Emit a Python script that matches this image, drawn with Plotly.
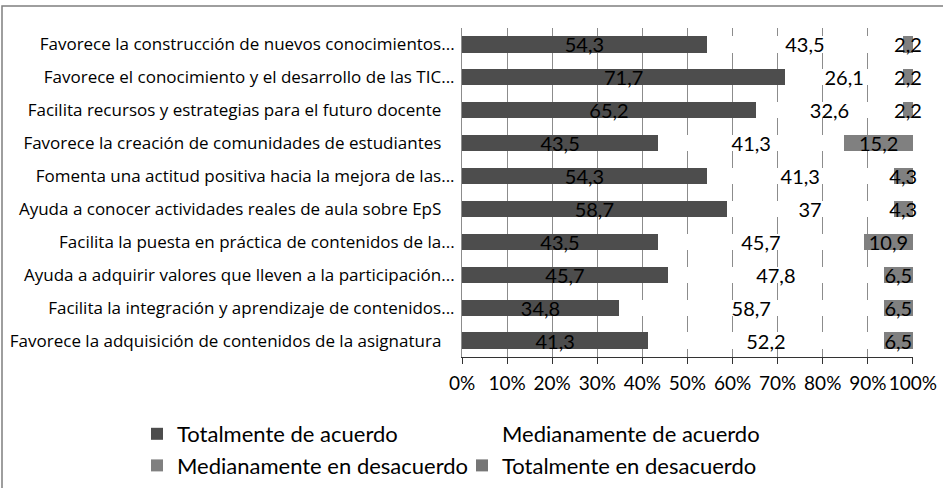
import plotly.graph_objects as go

categories = [
    "Favorece la construcción de nuevos conocimientos...",
    "Favorece el conocimiento y el desarrollo de las TIC...",
    "Facilita recursos y estrategias para el futuro docente",
    "Favorece la creación de comunidades de estudiantes",
    "Fomenta una actitud positiva hacia la mejora de las...",
    "Ayuda a conocer actividades reales de aula sobre EpS",
    "Facilita la puesta en práctica de contenidos de la...",
    "Ayuda a adquirir valores que lleven a la participación...",
    "Facilita la integración y aprendizaje de contenidos...",
    "Favorece la adquisición de contenidos de la asignatura",
]
totalmente_acuerdo = [54.3, 71.7, 65.2, 43.5, 54.3, 58.7, 43.5, 45.7, 34.8, 41.3]
medianamente_acuerdo = [43.5, 26.1, 32.6, 41.3, 41.3, 37, 45.7, 47.8, 58.7, 52.2]
medianamente_desacuerdo = [2.2, 2.2, 2.2, 15.2, 4.3, 4.3, 10.9, 6.5, 6.5, 6.5]
totalmente_desacuerdo = [0, 0, 0, 0, 0, 0, 0, 0, 0, 0]
series_names = ["Totalmente de acuerdo", "Medianamente de acuerdo",
                "Medianamente en desacuerdo", "Totalmente en desacuerdo"]
tick_vals = [0, 10, 20, 30, 40, 50, 60, 70, 80, 90, 100]
tick_text = ["0%", "10%", "20%", "30%", "40%", "50%", "60%", "70%", "80%", "90%", "100%"]

NUMFONT = "Lato"
CATFONT = "Open Sans"


def fmt(v):
    return ("%g" % v).replace(".", ",") if v else ""


# labels without ellipsis carry a trailing gap in the original
labels = [c if c.endswith("...") else c + "\u00a0\u00a0\u00a0" for c in categories]

series = [totalmente_acuerdo, medianamente_acuerdo, medianamente_desacuerdo, totalmente_desacuerdo]
colors = ["#4d4d4d", "#ffffff", "#808080", "#767676"]

fig = go.Figure()
for name, vals, col in zip(series_names, series, colors):
    fig.add_trace(go.Bar(
        y=labels, x=vals, name=name, orientation="h",
        marker=dict(color=col, line=dict(width=0)),
        text=[fmt(v) for v in vals],
        textposition="inside", insidetextanchor="middle", textangle=0,
        constraintext="none", cliponaxis=False,
        textfont=dict(family=NUMFONT, size=20, color="#000000"),
        hoverinfo="skip",
    ))

W, H = 943, 488
L, R, T, B = 462, 30, 28, 131
pw = W - L - R
ph = H - T - B
fig.update_layout(
    width=W, height=H,
    barmode="stack", barnorm="percent", bargap=0.51,
    paper_bgcolor="white", plot_bgcolor="white",
    margin=dict(l=L, r=R, t=T, b=B, autoexpand=False),
    font=dict(family=NUMFONT, size=16, color="#000000"),
    uniformtext=dict(minsize=20, mode="show"),
    xaxis=dict(
        range=[0, 100.02], tickvals=tick_vals, ticktext=tick_text,
        showgrid=True, gridcolor="#8c8c8c", gridwidth=1,
        zeroline=False, showline=True, linecolor="#333333", linewidth=1,
        ticks="outside", ticklen=6, tickcolor="#333333", ticklabelstandoff=3,
        tickfont=dict(family=NUMFONT, size=19, color="#000000"),
    ),
    yaxis=dict(
        autorange="reversed", showgrid=False, zeroline=False,
        showline=True, linecolor="#8c8c8c", linewidth=1,
        ticks="", ticklabelstandoff=3,
        tickfont=dict(family=CATFONT, size=17, color="#000000"),
    ),
    legend=dict(
        orientation="h", xref="paper", yref="paper",
        x=(137 - L) / pw, y=(H - B - 413) / ph, xanchor="left", yanchor="top",
        entrywidth=280, entrywidthmode="pixels",
        font=dict(family=NUMFONT, size=22, color="#000000"),
        bgcolor="rgba(0,0,0,0)", traceorder="normal",
    ),
    showlegend=True,
)

fig.add_shape(
    type="rect", xref="paper", yref="paper",
    x0=(2 - L) / pw, x1=(W + 10 - L) / pw,
    y0=(H - B - (H + 10)) / ph, y1=(H - B - 6) / ph,
    line=dict(color="#7f7f7f", width=1.5), fillcolor="rgba(0,0,0,0)",
    layer="below",
)

fig.write_html("out.html", config={"displayModeBar": False},
               post_script="document.body.style.margin='0';")
